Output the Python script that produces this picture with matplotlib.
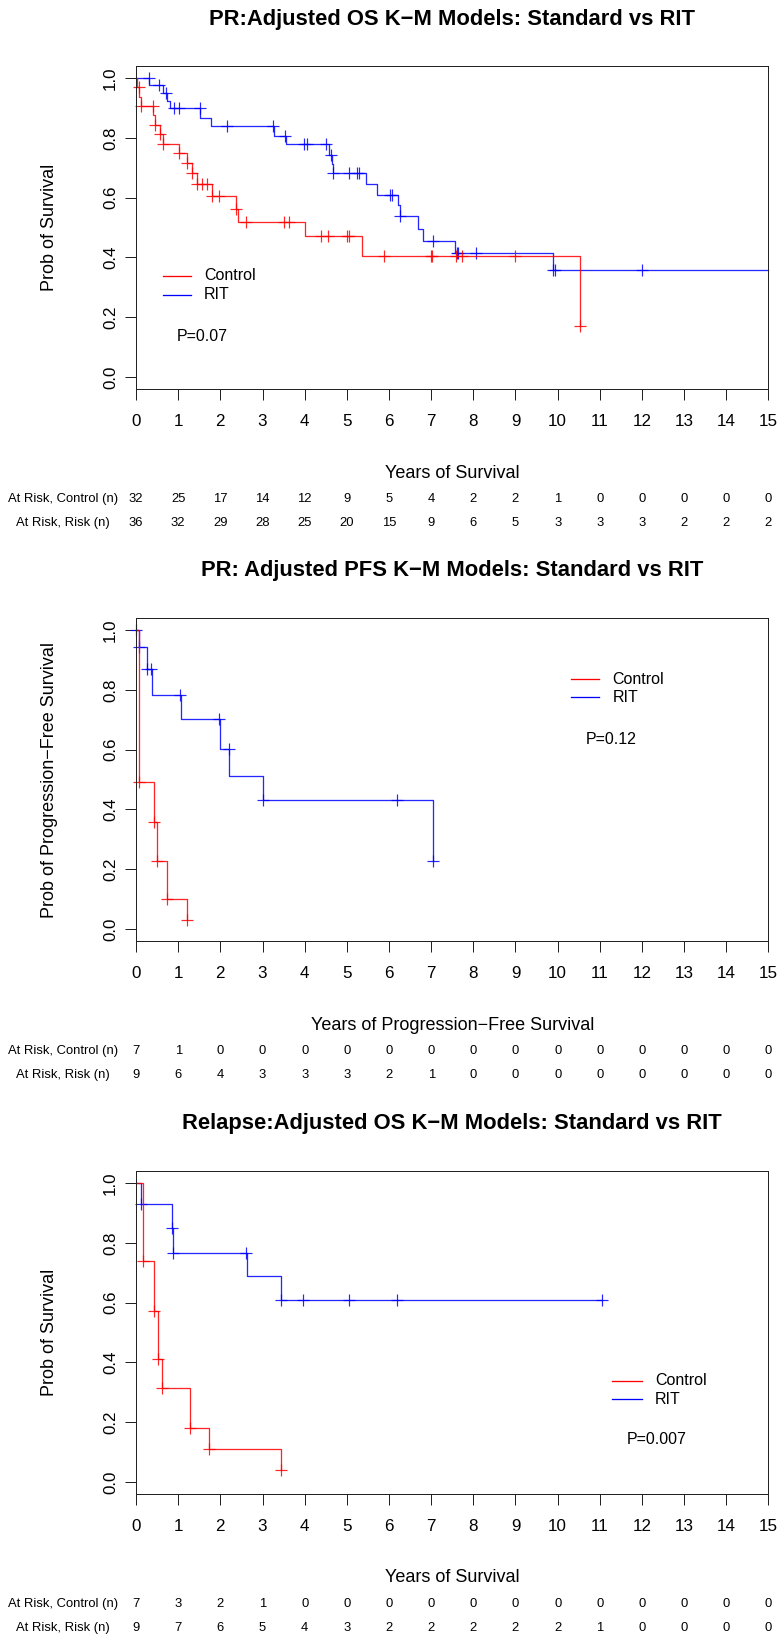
import matplotlib
matplotlib.use("Agg")
import matplotlib.pyplot as plt
import numpy as np

plt.rcParams['font.family'] = ['Liberation Sans', 'DejaVu Sans']

# ---------------- data ----------------
titles = ["PR:Adjusted OS K\u2212M Models: Standard vs RIT",
          "PR: Adjusted PFS K\u2212M Models: Standard vs RIT",
          "Relapse:Adjusted OS K\u2212M Models: Standard vs RIT"]
ylabels = ["Prob of Survival", "Prob of Progression\u2212Free Survival", "Prob of Survival"]
xlabels = ["Years of Survival", "Years of Progression\u2212Free Survival", "Years of Survival"]
pvalues = ["P=0.07", "P=0.12", "P=0.007"]
group_names = ["Control", "RIT"]
year_ticks = list(range(16))

# Panel 1: PR OS
ctrl1_t = [0, 0.02, 0.08, 0.13, 0.41, 0.45, 0.57, 0.65, 1.03, 1.20, 1.32, 1.45, 1.81, 2.37, 2.42, 4.01, 5.35, 10.53]
ctrl1_s = [1.0, 0.969, 0.938, 0.906, 0.875, 0.844, 0.813, 0.779, 0.748, 0.717, 0.682, 0.646, 0.606, 0.563, 0.520, 0.472, 0.405, 0.171]
ctrl1_end = 10.53
ctrl1_cens = [0.06, 0.13, 0.40, 0.45, 0.57, 0.65, 1.03, 1.20, 1.32, 1.45, 1.57, 1.69, 1.81, 1.96, 2.37, 2.62,
              3.52, 3.64, 4.38, 4.55, 5.00, 5.04, 5.87, 7.00, 7.02, 7.60, 7.72, 9.00, 10.53]
rit1_t = [0, 0.32, 0.63, 0.73, 0.81, 1.52, 1.77, 3.27, 3.55, 4.58, 4.64, 4.68, 5.45, 5.71, 6.22, 6.26, 6.68, 6.81, 7.57, 9.88]
rit1_s = [1.0, 0.975, 0.950, 0.924, 0.900, 0.866, 0.838, 0.807, 0.779, 0.743, 0.712, 0.682, 0.646, 0.609, 0.574, 0.537, 0.496, 0.456, 0.415, 0.358]
rit1_end = 15.0
rit1_cens = [0.31, 0.55, 0.72, 0.91, 1.03, 1.51, 2.15, 3.26, 3.54, 3.98, 4.05, 4.50, 4.62, 4.68, 5.04, 5.25, 5.28,
             6.02, 6.06, 6.26, 7.05, 7.62, 7.64, 8.06, 9.88, 9.93, 12.0]
risk_ctrl1 = [32, 25, 17, 14, 12, 9, 5, 4, 2, 2, 1, 0, 0, 0, 0, 0]
risk_rit1 = [36, 32, 29, 28, 25, 20, 15, 9, 6, 5, 3, 3, 3, 2, 2, 2]

# Panel 2: PR PFS
ctrl2_t = [0, 0.08, 0.43, 0.49, 0.73, 1.20]
ctrl2_s = [1.0, 0.49, 0.359, 0.228, 0.099, 0.03]
ctrl2_end = 1.20
ctrl2_cens = [0.08, 0.43, 0.49, 0.73, 1.20]
rit2_t = [0, 0.08, 0.25, 0.37, 1.06, 1.99, 2.21, 3.00, 7.05]
rit2_s = [1.0, 0.944, 0.869, 0.782, 0.702, 0.601, 0.512, 0.432, 0.228]
rit2_end = 7.05
rit2_cens = [0.01, 0.08, 0.25, 0.35, 1.05, 1.98, 2.20, 3.00, 6.18, 7.05]
risk_ctrl2 = [7, 1, 0, 0, 0, 0, 0, 0, 0, 0, 0, 0, 0, 0, 0, 0]
risk_rit2 = [9, 6, 4, 3, 3, 3, 2, 1, 0, 0, 0, 0, 0, 0, 0, 0]

# Panel 3: Relapse OS
ctrl3_t = [0, 0.17, 0.43, 0.51, 0.62, 1.28, 1.72, 3.44]
ctrl3_s = [1.0, 0.739, 0.573, 0.413, 0.314, 0.180, 0.109, 0.039]
ctrl3_end = 3.44
ctrl3_cens = [0.17, 0.43, 0.51, 0.62, 1.28, 1.72, 3.44]
rit3_t = [0, 0.12, 0.86, 0.885, 2.64, 3.45]
rit3_s = [1.0, 0.928, 0.850, 0.767, 0.688, 0.608]
rit3_end = 11.05
rit3_cens = [0.12, 0.86, 0.885, 2.62, 3.45, 3.95, 5.06, 6.18, 11.05]
risk_ctrl3 = [7, 3, 2, 1, 0, 0, 0, 0, 0, 0, 0, 0, 0, 0, 0, 0]
risk_rit3 = [9, 7, 6, 5, 4, 3, 2, 2, 2, 2, 2, 1, 0, 0, 0, 0]

panels = [
    dict(ct=ctrl1_t, cs=ctrl1_s, ce=ctrl1_end, cc=ctrl1_cens,
         rt=rit1_t, rs=rit1_s, re=rit1_end, rc=rit1_cens,
         rk_c=risk_ctrl1, rk_r=risk_rit1,
         leg=(0.63, 1.30, 1.61, 0.338, 0.275), pv=(1.56, 0.135)),
    dict(ct=ctrl2_t, cs=ctrl2_s, ce=ctrl2_end, cc=ctrl2_cens,
         rt=rit2_t, rs=rit2_s, re=rit2_end, rc=rit2_cens,
         rk_c=risk_ctrl2, rk_r=risk_rit2,
         leg=(10.31, 10.98, 11.30, 0.836, 0.775), pv=(11.26, 0.635)),
    dict(ct=ctrl3_t, cs=ctrl3_s, ce=ctrl3_end, cc=ctrl3_cens,
         rt=rit3_t, rs=rit3_s, re=rit3_end, rc=rit3_cens,
         rk_c=risk_ctrl3, rk_r=risk_rit3,
         leg=(11.30, 12.00, 12.31, 0.338, 0.277), pv=(12.35, 0.143)),
]

# ---------------- layout ----------------
W, H = 783, 1636
DPI = 72
fig = plt.figure(figsize=(W / DPI, H / DPI), dpi=DPI)
fig.patch.set_facecolor("white")

box_left, box_right = 136, 768.5
box_tops = [66, 618, 1171]
box_h = 323

RED = "#FF0000"
BLUE = "#0000FF"


def step_xy(t, s, end):
    x = list(t) + [end]
    y = list(s) + [s[-1]]
    return x, y


def surv_at(t, s, x):
    idx = np.searchsorted(np.asarray(t), x, side="right") - 1
    return s[max(idx, 0)]


for i, p in enumerate(panels):
    top = box_tops[i]
    ax = fig.add_axes([box_left / W, 1 - (top + box_h) / H,
                       (box_right - box_left) / W, box_h / H])
    ax.set_xlim(0, 15)
    ax.set_ylim(-0.04, 1.04)

    for (t, s, e, cens, col) in [(p['rt'], p['rs'], p['re'], p['rc'], BLUE),
                                  (p['ct'], p['cs'], p['ce'], p['cc'], RED)]:
        x, y = step_xy(t, s, e)
        ax.step(x, y, where="post", color=col, lw=1.3, alpha=0.85, clip_on=False)
        cy = [surv_at(t, s, c) for c in cens]
        ax.plot(cens, cy, linestyle="none", marker="+", markersize=12,
                markeredgewidth=1.2, color=col, alpha=0.85, clip_on=False)

    # legend + p-value
    x0, x1, xt, yc, yr = p['leg']
    ax.plot([x0, x1], [yc, yc], color=RED, lw=1.3)
    ax.plot([x0, x1], [yr, yr], color=BLUE, lw=1.3)
    ax.text(xt, yc, group_names[0], fontsize=16, va="center", ha="left")
    ax.text(xt, yr, group_names[1], fontsize=16, va="center", ha="left")
    ax.text(p['pv'][0], p['pv'][1], pvalues[i], fontsize=16, va="center", ha="center")

    # axes styling
    for sp in ax.spines.values():
        sp.set_linewidth(1.0)
        sp.set_color("#222222")
    ax.set_xticks(year_ticks)
    ax.set_xticklabels([str(v) for v in year_ticks], fontsize=17)
    ax.set_yticks([0.0, 0.2, 0.4, 0.6, 0.8, 1.0])
    ax.set_yticklabels(["0.0", "0.2", "0.4", "0.6", "0.8", "1.0"], fontsize=17,
                       rotation=90, va="center")
    ax.tick_params(axis="x", length=11, width=1, pad=14, color="#222222")
    ax.tick_params(axis="y", length=11, width=1, pad=7, color="#222222")
    ax.set_ylabel(ylabels[i], fontsize=18)
    ax.yaxis.set_label_coords((58 - box_left) / (box_right - box_left), 0.5)

    # title
    fig.text(((box_left + box_right) / 2) / W, 1 - (top - 47) / H, titles[i],
             fontsize=22, fontweight="bold", ha="center", va="center")

    # x label
    xt_ = ax.get_xaxis_transform()
    ax.text(7.5, -84 / box_h, xlabels[i], transform=xt_, fontsize=18,
            ha="center", va="center", clip_on=False)

    # at-risk table
    lab_x = (63 - box_left) / ((box_right - box_left) / 15)
    ax.text(lab_x, -110 / box_h, "At Risk, Control (n)", transform=xt_, fontsize=13,
            ha="center", va="center", clip_on=False)
    ax.text(lab_x, -134 / box_h, "At Risk, Risk (n)", transform=xt_, fontsize=13,
            ha="center", va="center", clip_on=False)
    for k, yr_ in enumerate(year_ticks):
        ax.text(yr_, -110 / box_h, str(p['rk_c'][k]), transform=xt_, fontsize=13,
                ha="center", va="center", clip_on=False)
        ax.text(yr_, -134 / box_h, str(p['rk_r'][k]), transform=xt_, fontsize=13,
                ha="center", va="center", clip_on=False)

fig.savefig("out.png", dpi=DPI, facecolor="white")
